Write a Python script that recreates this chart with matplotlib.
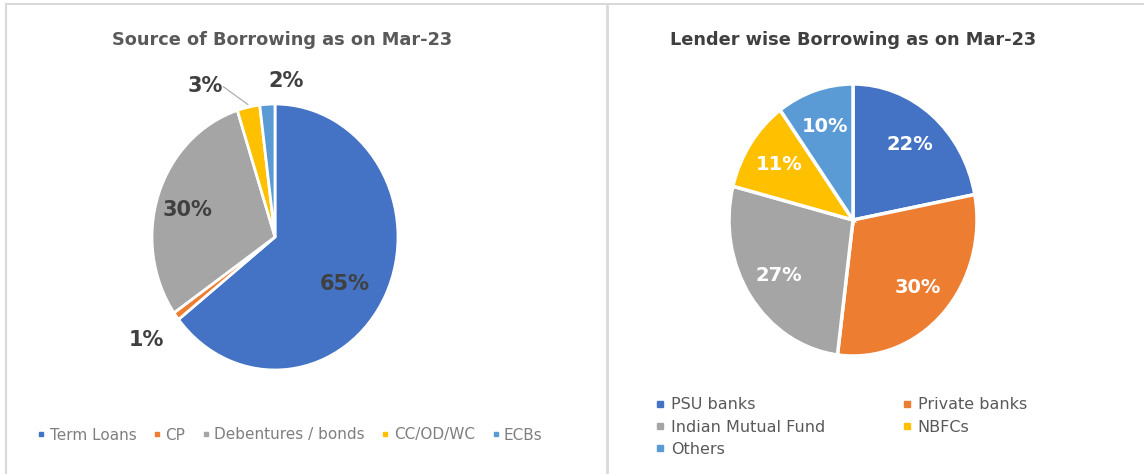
import numpy as np
import matplotlib
matplotlib.use('Agg')
import matplotlib.pyplot as plt
from matplotlib.lines import Line2D

# data
src_labels = ['Term Loans', 'CP', 'Debentures / bonds', 'CC/OD/WC', 'ECBs']
src_values = [65, 1, 30, 3, 2]
lender_labels = ['PSU banks', 'Private banks', 'Indian Mutual Fund', 'NBFCs', 'Others']
lender_values = [22, 30, 27, 11, 10]

src_colors = ['#4472C4', '#ED7D31', '#A5A5A5', '#FFC000', '#5B9BD5']
lender_colors = ['#4472C4', '#ED7D31', '#A5A5A5', '#FFC000', '#5B9BD5']

W, H = 1144, 474
fig = plt.figure(figsize=(W / 100, H / 100), dpi=100)
fig.patch.set_facecolor('white')

def pie_axes(cx, cy, rx, ry, pad=1.1):
    # axes box in figure fraction, pie of radius 1 stretched to rx/ry pixels
    return fig.add_axes([(cx - rx * pad) / W, (H - cy - ry * pad) / H,
                         2 * rx * pad / W, 2 * ry * pad / H])

# ---- left chart ----
ax1 = pie_axes(275, 237, 123, 133)
wedges1, _ = ax1.pie(src_values, colors=src_colors, startangle=90, counterclock=False,
                     wedgeprops=dict(edgecolor='white', linewidth=2))
ax1.set_xlim(-1.1, 1.1)
ax1.set_ylim(-1.1, 1.1)
ax1.set_aspect('auto')

# label placement: (radius, angle shift in degrees) per slice
lab_pos = [(0.67, -6), (1.3, 0), (0.74, 3), (1.27, 14), (1.18, -8)]
for w, v, (r, sh) in zip(wedges1, src_values, lab_pos):
    ang = np.deg2rad((w.theta1 + w.theta2) / 2 + sh)
    ax1.text(r * np.cos(ang), r * np.sin(ang), f'{v}%', ha='center', va='center',
             fontsize=15, color='#404040', fontweight='semibold')
# leader line for the small yellow slice
yw = wedges1[3]
ya = np.deg2rad((yw.theta1 + yw.theta2) / 2)
ax1.plot([-0.42, 1.02 * np.cos(ya)], [1.13, 1.02 * np.sin(ya)], color='#a6a6a6', lw=0.8,
         clip_on=False)

fig.text(282 / W, 1 - 40 / H, 'Source of Borrowing as on Mar-23', ha='center', va='center',
         fontsize=12.8, fontweight='bold', color='#595959')

h1 = [Line2D([], [], marker='s', ls='', color=c, markersize=3.5) for c in src_colors]
fig.legend(h1, src_labels, loc='center', bbox_to_anchor=(290 / W, 1 - 435 / H), ncol=5,
           frameon=False, fontsize=11, labelcolor='#7f7f7f', handlelength=0.5,
           handletextpad=0.3, columnspacing=1.1)

# ---- right chart ----
ax2 = pie_axes(853, 220, 124, 136)
wedges2, _, autotexts = ax2.pie(lender_values, colors=lender_colors, startangle=90,
                                counterclock=False, autopct='%1.0f%%', pctdistance=0.72,
                                wedgeprops=dict(edgecolor='white', linewidth=2.5))
for t in autotexts:
    t.set_color('white')
    t.set_fontsize(14)
    t.set_fontweight('bold')
ax2.set_xlim(-1.1, 1.1)
ax2.set_ylim(-1.1, 1.1)
ax2.set_aspect('auto')

fig.text(853 / W, 1 - 40 / H, 'Lender wise Borrowing as on Mar-23', ha='center', va='center',
         fontsize=12.8, fontweight='bold', color='#404040')

h2 = [Line2D([], [], marker='s', ls='', color=c, markersize=5) for c in lender_colors]
order = [0, 2, 4, 1, 3]
fig.legend([h2[i] for i in order], [lender_labels[i] for i in order], loc='upper left',
           bbox_to_anchor=(650 / W, 1 - 391 / H), ncol=2, frameon=False, fontsize=11.5,
           labelcolor='#595959', handlelength=0.5, handletextpad=0.4, columnspacing=4.9,
           labelspacing=0.45, borderaxespad=0)

# panel borders
bc = '#d9d9d9'
fig.add_artist(Line2D([6 / W, 1], [1 - 4 / H, 1 - 4 / H], color=bc, lw=1.5))
fig.add_artist(Line2D([6 / W, 6 / W], [0, 1 - 4 / H], color=bc, lw=1.5))
fig.add_artist(Line2D([607 / W, 607 / W], [0, 1 - 4 / H], color=bc, lw=2))

plt.savefig('out.png', dpi=100, facecolor='white')
